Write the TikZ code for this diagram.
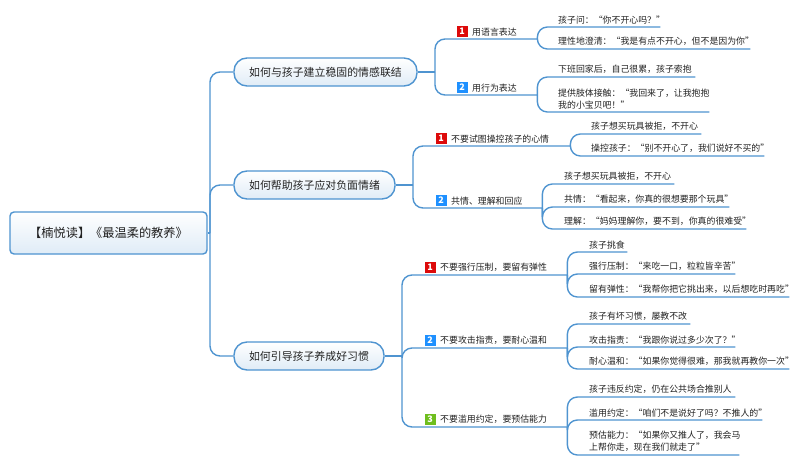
\documentclass[tikz,border=0pt]{standalone}
\usepackage{fontspec}
\setmainfont{Noto Sans CJK SC}
\definecolor{branchblue}{HTML}{4F94D0}
\definecolor{inkgrey}{HTML}{222222}
\definecolor{markred}{HTML}{DD0A0A}
\definecolor{markblue}{HTML}{1E90FF}
\definecolor{markgreen}{HTML}{6FBE1E}
\tikzset{
    branch/.style={draw=branchblue, line width=1.4pt, rounded corners=10pt},
    root/.style={draw=branchblue, line width=1.4pt, rounded corners=4pt, top color=white, bottom color=branchblue!18,
        text=inkgrey, minimum width=197pt, minimum height=42pt, font=\fontsize{12.2}{14}\selectfont},
    topic/.style={draw=branchblue, line width=1.4pt, rounded corners=13pt, top color=white, bottom color=branchblue!18,
        text=inkgrey, minimum height=28pt, font=\fontsize{10.9}{13}\selectfont},
    label/.style={anchor=south west, inner xsep=0pt, inner ysep=3pt, align=left, text=inkgrey,
        font=\fontsize{8.9}{12}\selectfont},
    mark/.style={fill=#1, text=white, inner sep=0pt, minimum size=11pt, font=\fontsize{9}{9}\selectfont\bfseries}
}
\begin{document}
\begin{tikzpicture}[x=1pt,y=-1pt]
    \useasboundingbox (0,0) rectangle (800,466);
    \node[root] (book) at (108.5,233) {【楠悦读】《最温柔的教养》};
    \coordinate (j0) at (210,233);
    \draw[branch] (book) -- (j0);
    \foreach \n/\x/\w/\y/\jx/\txt in {t1/325.5/183/72/435/如何与孩子建立稳固的情感联结,
        t2/314.5/161/185/413/如何帮助孩子应对负面情绪,
        t3/309/150/356/402/如何引导孩子养成好习惯}{
        \node[topic, minimum width=\w pt] (\n) at (\x,\y) {\txt};
        \coordinate (j\n) at (\jx,\y);
        \draw[branch] (j0) |- (\n.west);
        \draw[branch] (\n.east) -- (j\n);
    }
    % second level
    \foreach \n/\p/\x/\y/\e/\c/\k/\txt in {s11/t1/472/39/537/markred/1/用语言表达,
        s12/t1/472/95/537/markblue/2/用行为表达,
        s21/t2/451/146/570/markred/1/不要试图操控孩子的心情,
        s22/t2/451/208/542/markblue/2/共情、理解和回应,
        s31/t3/440/275/567/markred/1/不要强行压制，要留有弹性,
        s32/t3/440/348/567/markblue/2/不要攻击指责，要耐心温和,
        s33/t3/440/427/567/markgreen/3/不要滥用约定，要预估能力}{
        \pgfmathsetmacro\w{\e-\x}
        \node[label, text width=\w pt] (\n) at (\x,\y) {\txt};
        \node[mark=\c] (\n m) at (\x-10,\y-7.5) {\k};
        \draw[branch] (j\p) |- (\n.south east);
    }
    % leaves
    \foreach \n/\p/\x/\y/\e/\txt in {a1/s11/558/27/660/孩子问：“你不开心吗？”,
        a2/s11/558/49/750/理性地澄清：“我是有点不开心，但不是因为你”,
        a3/s12/558/77/695/下班回家后，自己很累，孩子索抱,
        a4/s12/558/112/709/{提供肢体接触：“我回来了，让我抱抱\\我的小宝贝吧！”},
        b1/s21/591/134/701/孩子想买玩具被拒，不开心,
        b2/s21/591/156/764/操控孩子：“别不开心了，我们说好不买的”,
        b3/s22/564/184/674/孩子想买玩具被拒，不开心,
        b4/s22/564/207/729/共情：“看起来，你真的很想要那个玩具”,
        b5/s22/564/229/746/理解：“妈妈理解你，要不到，你真的很难受”,
        c1/s31/589/252/627/孩子挑食,
        c2/s31/589/274/735/强行压制：“来吃一口，粒粒皆辛苦”,
        c3/s31/589/297/789/留有弹性：“我帮你把它挑出来，以后想吃时再吃”,
        c4/s32/589/324/690/孩子有坏习惯，屡教不改,
        c5/s32/589/347/735/攻击指责：“我跟你说过多少次了？”,
        c6/s32/589/369/789/耐心温和：“如果你觉得很难，那我就再教你一次”,
        c7/s33/589/397/735/孩子违反约定，仍在公共场合推别人,
        c8/s33/589/420/762/滥用约定：“咱们不是说好了吗？不推人的”,
        c9/s33/589/455/739/{预估能力：“如果你又推人了，我会马\\上帮你走，现在我们就走了”}}{
        \pgfmathsetmacro\w{\e-\x}
        \node[label, text width=\w pt] (\n) at (\x,\y) {\txt};
        \draw[branch] (\p.south east) |- (\n.south east);
    }
\end{tikzpicture}
\end{document}
